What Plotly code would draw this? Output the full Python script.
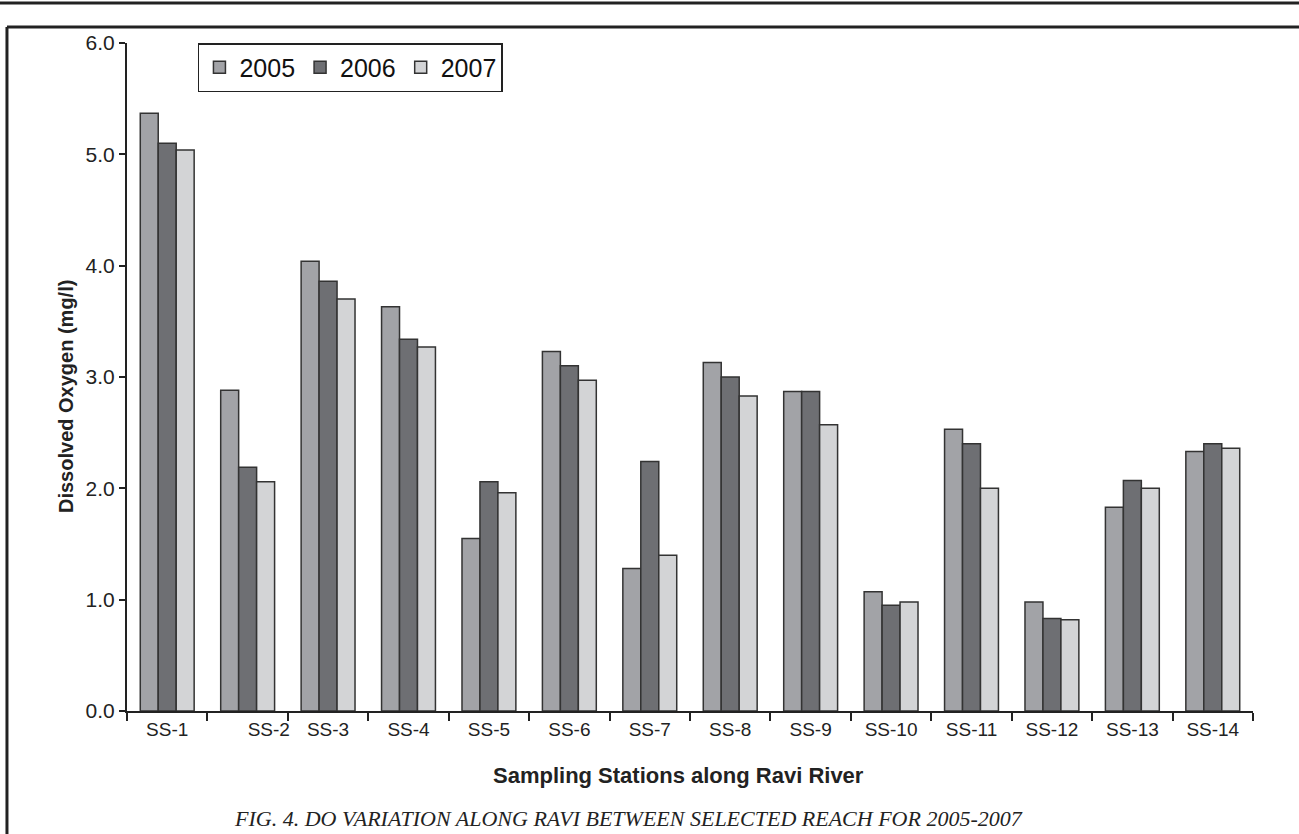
import plotly.graph_objects as go

# estaciones de muestreo
stations = ["SS-1", "SS-2", "SS-3", "SS-4", "SS-5", "SS-6", "SS-7",
            "SS-8", "SS-9", "SS-10", "SS-11", "SS-12", "SS-13", "SS-14"]
tick_text = ["SS-1", "\u00a0" * 8 + "SS-2", "SS-3", "SS-4", "SS-5", "SS-6", "SS-7",
             "SS-8", "SS-9", "SS-10", "SS-11", "SS-12", "SS-13", "SS-14"]

# oxigeno disuelto (mg/l) por año
do_2005 = [5.37, 2.88, 4.04, 3.63, 1.55, 3.23, 1.28, 3.13, 2.87, 1.07, 2.53, 0.98, 1.83, 2.33]
do_2006 = [5.10, 2.19, 3.86, 3.34, 2.06, 3.10, 2.24, 3.00, 2.87, 0.95, 2.40, 0.83, 2.07, 2.40]
do_2007 = [5.04, 2.06, 3.70, 3.27, 1.96, 2.97, 1.40, 2.83, 2.57, 0.98, 2.00, 0.82, 2.00, 2.36]

years = ["2005", "2006", "2007"]
colors = ["#a2a3a7", "#6e6f73", "#d3d4d6"]

fig = go.Figure()
for name, vals, col in zip(years, [do_2005, do_2006, do_2007], colors):
    fig.add_trace(go.Bar(x=stations, y=vals, name=name,
                         marker=dict(color=col, line=dict(color="#333333", width=1.5))))

fnt = "Liberation Sans, Arial, sans-serif"
frame = dict(color="#222222", width=3)

fig.update_layout(
    width=1299, height=834,
    margin=dict(l=127, r=46, t=43, b=123),
    paper_bgcolor="white", plot_bgcolor="white",
    barmode="group", bargap=0.33, bargroupgap=0,
    font=dict(family=fnt, color="#222222"),
    showlegend=True,
    legend=dict(orientation="h", x=0.063, y=1.0, xanchor="left", yanchor="top",
                bordercolor="#222222", borderwidth=1.5, bgcolor="white",
                font=dict(size=25, family=fnt, color="#111111"),
                itemwidth=30, traceorder="normal"),
    xaxis=dict(tickvals=stations, ticktext=tick_text, tickson="boundaries", tickangle=0,
               ticks="outside", ticklen=8, tickwidth=1.5, tickcolor="#222222",
               showline=True, linecolor="#222222", linewidth=2, automargin=False,
               tickfont=dict(size=19, family=fnt, color="#222222"),
               showgrid=False, zeroline=False),
    yaxis=dict(range=[0, 6], tickvals=[0, 1, 2, 3, 4, 5, 6], tickformat=".1f",
               ticks="outside", ticklen=6, tickwidth=1.5, tickcolor="#222222",
               showline=True, linecolor="#222222", linewidth=2, automargin=False,
               tickfont=dict(size=21, family=fnt, color="#222222"),
               showgrid=False, zeroline=False),
    shapes=[
        # marco de la figura (izquierda y arriba)
        dict(type="line", xref="paper", yref="paper", x0=-0.1066, x1=-0.1066, y0=-0.3, y1=1.024,
             line=frame),
        dict(type="line", xref="paper", yref="paper", x0=-0.1066, x1=1.2, y0=1.024, y1=1.024,
             line=frame),
        # linea superior de la pagina
        dict(type="line", xref="paper", yref="paper", x0=-0.2, x1=1.2, y0=1.06, y1=1.06,
             line=frame),
    ],
    annotations=[
        dict(text="<b>Sampling Stations along Ravi River</b>",
             xref="paper", yref="paper", x=(678 - 127) / 1126, y=(711 - 775) / 668,
             xanchor="center", yanchor="middle", showarrow=False,
             font=dict(size=22, family=fnt, color="#222222")),
        dict(text="<b>Dissolved Oxygen (mg/l)</b>", textangle=-90,
             xref="paper", yref="paper", x=(66 - 127) / 1126, y=(711 - 397) / 668,
             xanchor="center", yanchor="middle", showarrow=False,
             font=dict(size=20, family=fnt, color="#222222")),
        dict(text="<i>FIG. 4. DO VARIATION ALONG RAVI BETWEEN SELECTED REACH FOR 2005-2007</i>",
             xref="paper", yref="paper", x=(628 - 127) / 1126, y=(711 - 818) / 668,
             xanchor="center", yanchor="middle", showarrow=False,
             font=dict(size=22, family="Liberation Serif, Times New Roman, serif",
                       color="#222222")),
    ],
)

# quitar el margen por defecto de la pagina
fig.write_html("out.html", config={"displayModeBar": False},
               post_script="document.body.style.margin='0';document.body.style.overflow='hidden';")
